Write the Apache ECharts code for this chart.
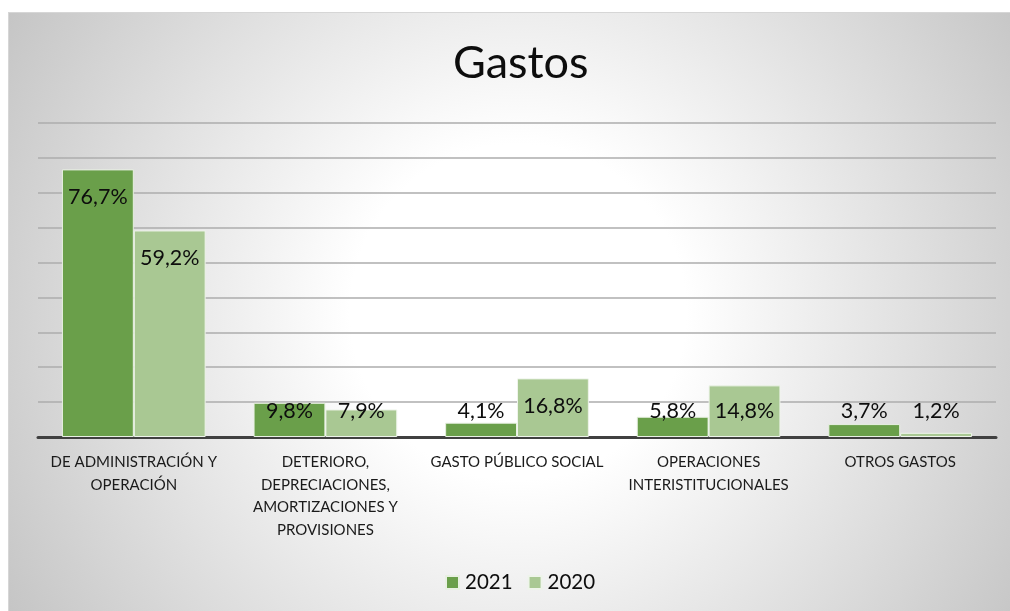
<!DOCTYPE html>
<html>
<head>
<meta charset="utf-8">
<script src="https://cdn.jsdelivr.net/npm/echarts@6/dist/echarts.min.js"></script>
<style>
  html, body { margin: 0; padding: 0; background: #ffffff; }
  #wrap { position: relative; width: 1010px; height: 611px; overflow: hidden; background: #ffffff; }
  #frame { position: absolute; left: 8px; top: 12px; width: 1010px; height: 610px;
    border-left: 1px solid #d6d6d6; border-top: 1px solid #d6d6d6;
    background: radial-gradient(circle 600px at 509px 299px, #ffffff 0%, #ffffff 28%, #c4c4c4 100%); }
  #chart { position: absolute; left: 0; top: 0; width: 1010px; height: 611px; }
</style>
</head>
<body>
<div id="wrap">
  <div id="frame"></div>
  <div id="chart"></div>
</div>
<script>
const title = "Gastos";
const categories = [
  "DE ADMINISTRACIÓN Y\nOPERACIÓN",
  "DETERIORO,\nDEPRECIACIONES,\nAMORTIZACIONES Y\nPROVISIONES",
  "GASTO PÚBLICO SOCIAL",
  "OPERACIONES\nINTERISTITUCIONALES",
  "OTROS GASTOS"
];
const seriesNames = ["2021", "2020"];
const values2021 = [76.7, 9.8, 4.1, 5.8, 3.7];
const values2020 = [59.2, 7.9, 16.8, 14.8, 1.2];

const FONT = "Lato, 'Open Sans', sans-serif";
const fmt = v => v.toFixed(1).replace('.', ',') + '%';

function buildData(arr) {
  return arr.map(v => {
    const tall = v >= 15.2;
    return {
      value: v,
      label: tall
        ? { position: 'insideTop', distance: 17 }
        : { position: 'insideBottom', distance: 15 }
    };
  });
}

const chart = echarts.init(document.getElementById('chart'), null, { renderer: 'canvas' });
chart.setOption({
  backgroundColor: 'transparent',
  animation: false,
  title: {
    text: title,
    left: 448,
    top: 36,
    textStyle: { fontFamily: FONT, fontSize: 45, fontWeight: 'normal', color: '#0d0d0d' }
  },
  legend: {
    data: seriesNames,
    left: 445,
    top: 572,
    padding: 0,
    icon: 'rect',
    itemWidth: 13,
    itemHeight: 13,
    itemGap: 15,
    textStyle: { fontFamily: FONT, fontSize: 20.5, color: '#0d0d0d', padding: [0, 0, 0, 1] }
  },
  grid: { left: 38, right: 14, top: 123, bottom: 174, containLabel: false },
  xAxis: {
    type: 'category',
    data: categories,
    axisLine: { show: true, lineStyle: { color: '#404040', width: 3 } },
    axisTick: { show: false },
    axisLabel: {
      interval: 0,
      margin: 14,
      fontFamily: FONT,
      fontSize: 15,
      lineHeight: 22.5,
      color: '#1a1a1a',
      align: 'center'
    }
  },
  yAxis: {
    type: 'value',
    min: 0,
    max: 90,
    interval: 10,
    axisLine: { show: false },
    axisTick: { show: false },
    axisLabel: { show: false },
    splitLine: { show: true, lineStyle: { color: '#acacac', width: 1.5 } }
  },
  series: [
    {
      name: seriesNames[0],
      type: 'bar',
      data: buildData(values2021),
      barGap: '0%',
      barCategoryGap: '25%',
      itemStyle: { color: '#6a9f4a', borderColor: '#e8f0e2', borderWidth: 1 },
      label: {
        show: true,
        color: '#0d0d0d',
        fontFamily: FONT,
        fontSize: 21.5,
        formatter: p => fmt(p.value)
      }
    },
    {
      name: seriesNames[1],
      type: 'bar',
      data: buildData(values2020),
      barGap: '0%',
      barCategoryGap: '25%',
      itemStyle: { color: '#a9c893', borderColor: '#eef4ea', borderWidth: 1 },
      label: {
        show: true,
        color: '#0d0d0d',
        fontFamily: FONT,
        fontSize: 21.5,
        formatter: p => fmt(p.value)
      }
    }
  ]
});
</script>
</body>
</html>
